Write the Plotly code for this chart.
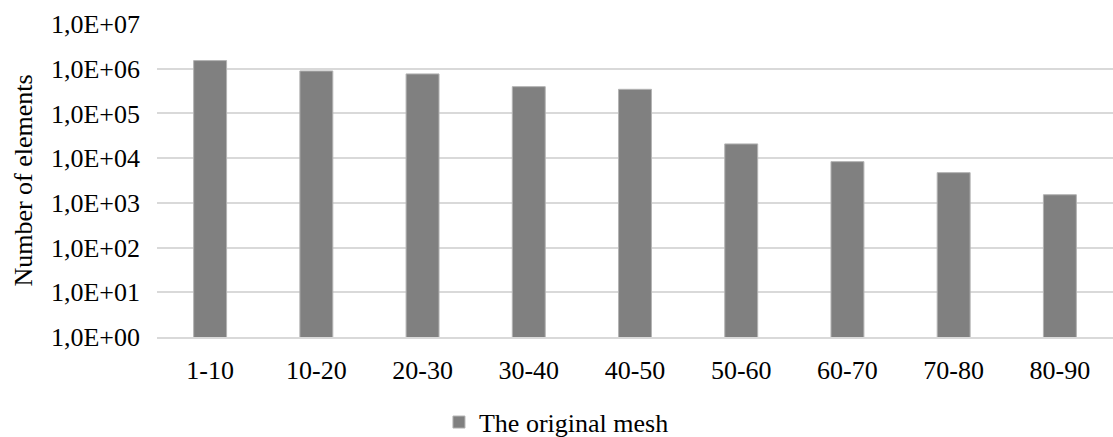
import plotly.graph_objects as go

# Element counts per angle bin
categories = ["1-10", "10-20", "20-30", "30-40", "40-50", "50-60", "60-70", "70-80", "80-90"]
counts = [1520000, 890000, 765000, 397000, 346000, 20800, 8350, 4740, 1520]

tick_vals = [1, 10, 100, 1e3, 1e4, 1e5, 1e6, 1e7]
tick_text = ["1,0E+00", "1,0E+01", "1,0E+02", "1,0E+03", "1,0E+04", "1,0E+05", "1,0E+06", "1,0E+07"]

FONT = "Liberation Serif, Times New Roman, serif"
FS = 26

fig = go.Figure()
fig.add_trace(go.Bar(
    x=categories,
    y=counts,
    name="The original mesh",
    marker=dict(color="#808080", line=dict(color="#b3b3b3", width=1)),
))

fig.update_layout(
    width=1113,
    height=437,
    margin=dict(l=157, r=0, t=24, b=100),
    paper_bgcolor="white",
    plot_bgcolor="white",
    bargap=0.69,
    font=dict(family=FONT, size=FS, color="#000000"),
    showlegend=True,
    legend=dict(
        orientation="h",
        xref="container", yref="container",
        x=0.3944, xanchor="left",
        y=0.034, yanchor="middle",
        font=dict(family=FONT, size=FS, color="#000000"),
        itemwidth=30,
    ),
    xaxis=dict(
        showgrid=False,
        showline=True,
        linecolor="#d9d9d9",
        linewidth=1.5,
        ticks="",
        ticklabelstandoff=9,
        tickfont=dict(family=FONT, size=FS),
    ),
    yaxis=dict(
        type="log",
        range=[0, 7],
        tickvals=tick_vals,
        ticktext=tick_text,
        showgrid=True,
        gridcolor="#d9d9d9",
        gridwidth=1.5,
        zeroline=False,
        showline=False,
        ticks="",
        ticklabelstandoff=16,
        tickfont=dict(family=FONT, size=FS),
        title=dict(text="Number of elements", font=dict(family=FONT, size=FS), standoff=10),
    ),
)

fig.write_html("out.html")
